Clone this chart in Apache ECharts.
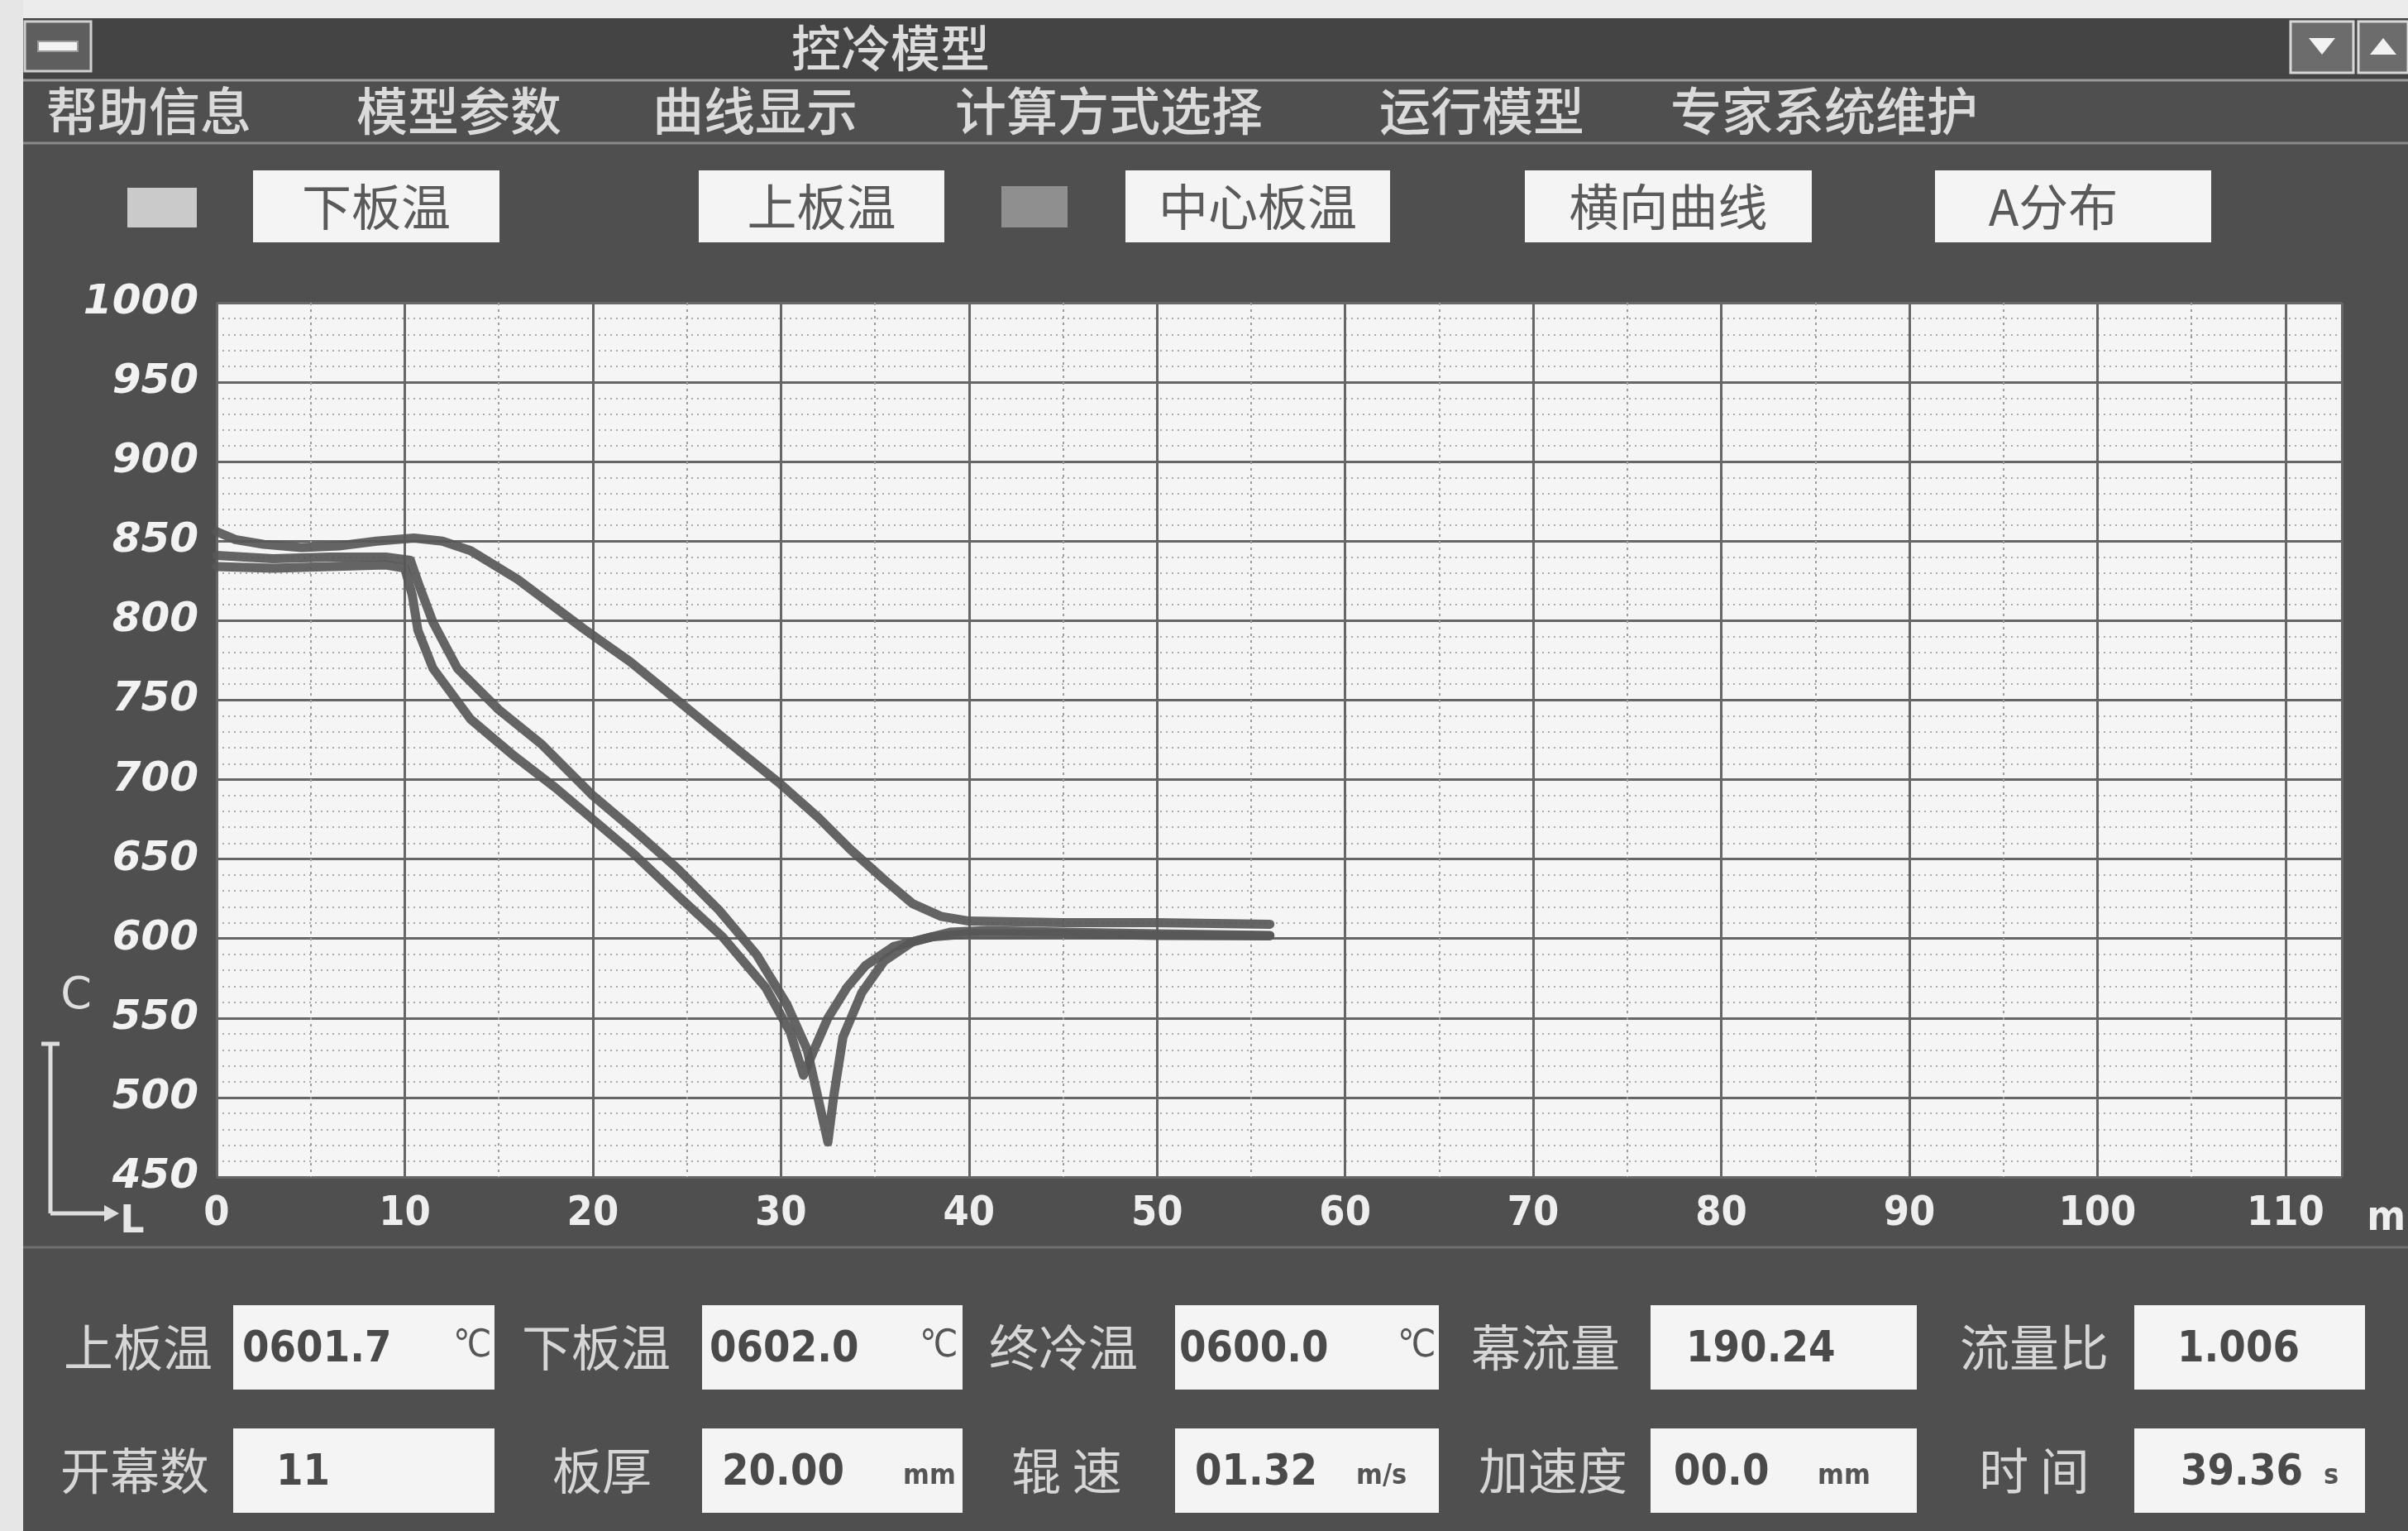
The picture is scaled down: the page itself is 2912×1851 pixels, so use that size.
<!DOCTYPE html>
<html>
<head>
<meta charset="utf-8">
<title>控冷模型</title>
<script src="https://cdn.jsdelivr.net/npm/echarts@6/dist/echarts.min.js"></script>
<style>
  html, body { margin: 0; padding: 0; background: #e9e9e9; overflow: hidden; }
  #chart { width: 2912px; height: 1851px; }
</style>
</head>
<body>
<div id="chart"></div>
<script>
// ---- temperature curves along the cooling line: [position m, temperature °C] ----
const centerPlateTemp = [
  [0, 856], [1, 851], [2.5, 848], [4.5, 846], [6.5, 847], [8.5, 850], [10.5, 852],
  [12, 850], [13.5, 844], [16, 826], [19.5, 795], [22, 774], [25, 745], [28, 716],
  [30, 697], [32, 676], [33.7, 656], [35.5, 637], [37, 622], [38.5, 614], [40, 611],
  [45, 610], [50, 610], [56, 609]
];
const upperPlateTemp = [
  [0, 834], [3, 833], [6, 834], [9, 835], [10, 833], [10.4, 816], [10.7, 794],
  [11.5, 770], [13.5, 738], [15.7, 716], [18, 695], [20, 675], [22.2, 653],
  [24.7, 625], [26.9, 601], [29.2, 569], [30.5, 541], [31.2, 514], [31.8, 531],
  [32.5, 550], [33.5, 569], [34.5, 583], [36, 595], [38, 601], [40, 603],
  [45, 603], [50, 602], [56, 601.7]
];
const lowerPlateTemp = [
  [0, 841], [3, 839], [6, 840], [9, 840], [10.3, 838], [10.8, 821], [11.5, 799],
  [12.8, 770], [15, 744], [17.3, 722], [20, 690], [22.2, 668], [24.5, 644],
  [26.7, 618], [28.7, 590], [30.3, 559], [31.4, 530], [32.5, 472], [32.8, 500],
  [33.3, 538], [34.3, 566], [35.5, 586], [37, 598], [39, 604], [41, 605],
  [45, 604], [50, 603], [56, 602.0]
];

// ---- axis ranges ----
const xRange = [0, 113];
const xStep = 10;
const yRange = [450, 1000];
const yStep = 50;

// ---- window texts ----
const windowTitle = '控冷模型';
const menuItems = ['帮助信息', '模型参数', '曲线显示', '计算方式选择', '运行模型', '专家系统维护'];
const curveButtons = ['下板温', '上板温', '中心板温', '横向曲线', 'A分布'];
const fieldLabelsRow1 = ['上板温', '下板温', '终冷温', '幕流量', '流量比'];
const fieldValuesRow1 = ['0601.7', '0602.0', '0600.0', '190.24', '1.006'];
const fieldUnitsRow1 = ['℃', '℃', '℃', '', ''];
const fieldLabelsRow2 = ['开幕数', '板厚', '辊 速', '加速度', '时 间'];
const fieldValuesRow2 = ['11', '20.00', '01.32', '00.0', '39.36'];
const fieldUnitsRow2 = ['', 'mm', 'm/s', 'mm', 's'];

// ---- drawing helpers for the window frame ----
const CJK = '"Noto Sans CJK SC", "Noto Sans", sans-serif';
const NARROW = '"Liberation Sans Narrow", "DejaVu Sans Condensed", sans-serif';
const G = [];
function rect(x, y, w, h, fill, stroke, lw) {
  G.push({ type: 'rect', silent: true, shape: { x, y, width: w, height: h },
    style: { fill, stroke: stroke || null, lineWidth: lw || 0 } });
}
function seg(x1, y1, x2, y2, stroke, lw) {
  G.push({ type: 'line', silent: true, shape: { x1, y1, x2, y2 }, style: { stroke, lineWidth: lw } });
}
function poly(points, fill) {
  G.push({ type: 'polygon', silent: true, shape: { points }, style: { fill } });
}
function txt(x, y, text, font, fill, align, valign) {
  G.push({ type: 'text', silent: true,
    style: { x, y, text, font, fill, textAlign: align || 'left', textVerticalAlign: valign || 'middle' } });
}

// light margins around the window
rect(0, 0, 2912, 22, '#ececec');
rect(0, 0, 28, 1851, '#e6e6e6');

// title bar
rect(28, 22, 2884, 74, '#444444');
rect(30, 26, 80, 60, '#5e5e5e', '#cfcfcf', 3);
rect(46, 50, 48, 12, '#f2f2f2', '#9a9a9a', 2);
txt(1077, 58, windowTitle, '500 60px ' + CJK, '#dcdcdc', 'center');
rect(2770, 26, 76, 62, '#6c6c6c', '#d8d8d8', 3);
poly([[2792, 46], [2824, 46], [2808, 66]], '#f2f2f2');
rect(2852, 26, 60, 62, '#6c6c6c', '#d8d8d8', 3);
poly([[2866, 66], [2898, 66], [2882, 46]], '#f2f2f2');

// menu bar
seg(28, 97, 2912, 97, '#9c9c9c', 3);
seg(28, 173, 2912, 173, '#8a8a8a', 3);
const menuX = [56, 431, 789, 1155, 1668, 2020];
menuItems.forEach((m, i) => txt(menuX[i], 134, m, '500 62px ' + CJK, '#dadada'));

// curve selector buttons and swatches
rect(154, 227, 84, 48, '#cacaca');
rect(1211, 225, 80, 50, '#8f8f8f');
const btnBox = [[306, 604], [845, 1142], [1361, 1681], [1844, 2191], [2340, 2674]];
curveButtons.forEach((b, i) => {
  const [x0, x1] = btnBox[i];
  rect(x0, 206, x1 - x0, 87, '#f4f4f4');
  txt(i === 4 ? 2483 : (x0 + x1) / 2, 250, b, '400 60px ' + CJK, '#5a5a5a', 'center');
});

// temperature / length axis glyph at the lower left
txt(92, 1205, 'C', '400 54px "DejaVu Sans", sans-serif', '#dedede', 'center');
seg(61, 1262, 61, 1467, '#dedede', 5);
seg(50, 1262, 72, 1262, '#dedede', 5);
seg(61, 1467, 128, 1467, '#dedede', 5);
poly([[126, 1457], [144, 1467], [126, 1477]], '#dedede');
txt(160, 1478, 'L', 'bold 46px "DejaVu Sans", sans-serif', '#e6e6e6', 'center');

// separator below the plot
seg(28, 1508, 2912, 1508, '#6f6f6f', 3);

// data fields
const boxX = [[282, 598], [849, 1164], [1421, 1740], [1996, 2318], [2581, 2860]];
const labelX1 = [167, 721, 1286, 1869, 2460];
const labelX2 = [163, 728, 1290, 1878, 2460];
const valX1 = [293, 858, 1426, 2039, 2633];
const valX2 = [334, 873, 1445, 2024, 2637];
const unitX1 = [548, 1112, 1690, 0, 0];
const unitX2 = [0, 1092, 1640, 2198, 2810];
function fieldRow(y0, labels, values, units, lx, vx, ux) {
  labels.forEach((l, i) => {
    txt(lx[i], y0 + 51, l, '400 60px ' + CJK, '#d6d6d6', 'center');
    const [x0, x1] = boxX[i];
    rect(x0, y0, x1 - x0, 102, '#f4f4f4');
    txt(vx[i], y0 + 54, values[i], 'bold 52px ' + NARROW, '#4a4a4a');
    if (units[i]) {
      const big = units[i] === '℃';
      txt(ux[i], y0 + (big ? 50 : 58), units[i],
        (big ? '400 46px ' : 'bold 34px ') + NARROW, '#555555');
    }
  });
}
fieldRow(1578, fieldLabelsRow1, fieldValuesRow1, fieldUnitsRow1, labelX1, valX1, unitX1);
fieldRow(1727, fieldLabelsRow2, fieldValuesRow2, fieldUnitsRow2, labelX2, valX2, unitX2);

// ---- chart ----
const curveStyle = { color: '#575757', width: 11, opacity: 0.92, cap: 'round', join: 'round' };
const chart = echarts.init(document.getElementById('chart'), null, { renderer: 'canvas' });
chart.setOption({
  animation: false,
  backgroundColor: '#4f4f4f',
  grid: {
    left: 262, right: 77, top: 366, bottom: 428,
    show: true, backgroundColor: '#f5f5f5', borderWidth: 0
  },
  xAxis: {
    type: 'value', min: xRange[0], max: xRange[1], interval: xStep,
    name: 'm', nameLocation: 'end', nameGap: 30,
    nameTextStyle: { color: '#eeeeee', fontSize: 50, fontWeight: 'bold', fontFamily: NARROW,
      verticalAlign: 'top', padding: [26, 0, 0, 0] },
    axisLine: { show: false }, axisTick: { show: false },
    axisLabel: {
      color: '#eeeeee', fontSize: 50, fontWeight: 'bold', fontFamily: NARROW, margin: 20,
      showMaxLabel: false, formatter: v => (v % xStep === 0 ? String(v) : '')
    },
    splitLine: { show: true, lineStyle: { color: '#666666', width: 3 } },
    minorTick: { show: false, splitNumber: 2 },
    minorSplitLine: { show: true, lineStyle: { color: '#9c9c9c', width: 2, type: [3, 5] } }
  },
  yAxis: {
    type: 'value', min: yRange[0], max: yRange[1], interval: yStep,
    axisLine: { show: false }, axisTick: { show: false },
    axisLabel: {
      color: '#f2f2f2', fontSize: 50, fontWeight: 'bold', fontStyle: 'italic',
      fontFamily: '"DejaVu Sans", sans-serif', margin: 22,
      formatter: v => String(v)
    },
    splitLine: { show: true, lineStyle: { color: '#666666', width: 3 } },
    minorTick: { show: false, splitNumber: 5 },
    minorSplitLine: { show: true, lineStyle: { color: '#aaaaaa', width: 2, type: [2, 5] } }
  },
  series: [
    { name: '中心板温', type: 'line', data: centerPlateTemp, showSymbol: false, lineStyle: curveStyle, z: 3 },
    { name: '下板温', type: 'line', data: lowerPlateTemp, showSymbol: false, lineStyle: curveStyle, z: 4 },
    { name: '上板温', type: 'line', data: upperPlateTemp, showSymbol: false, lineStyle: curveStyle, z: 5 }
  ],
  graphic: { elements: G }
});
</script>
</body>
</html>
